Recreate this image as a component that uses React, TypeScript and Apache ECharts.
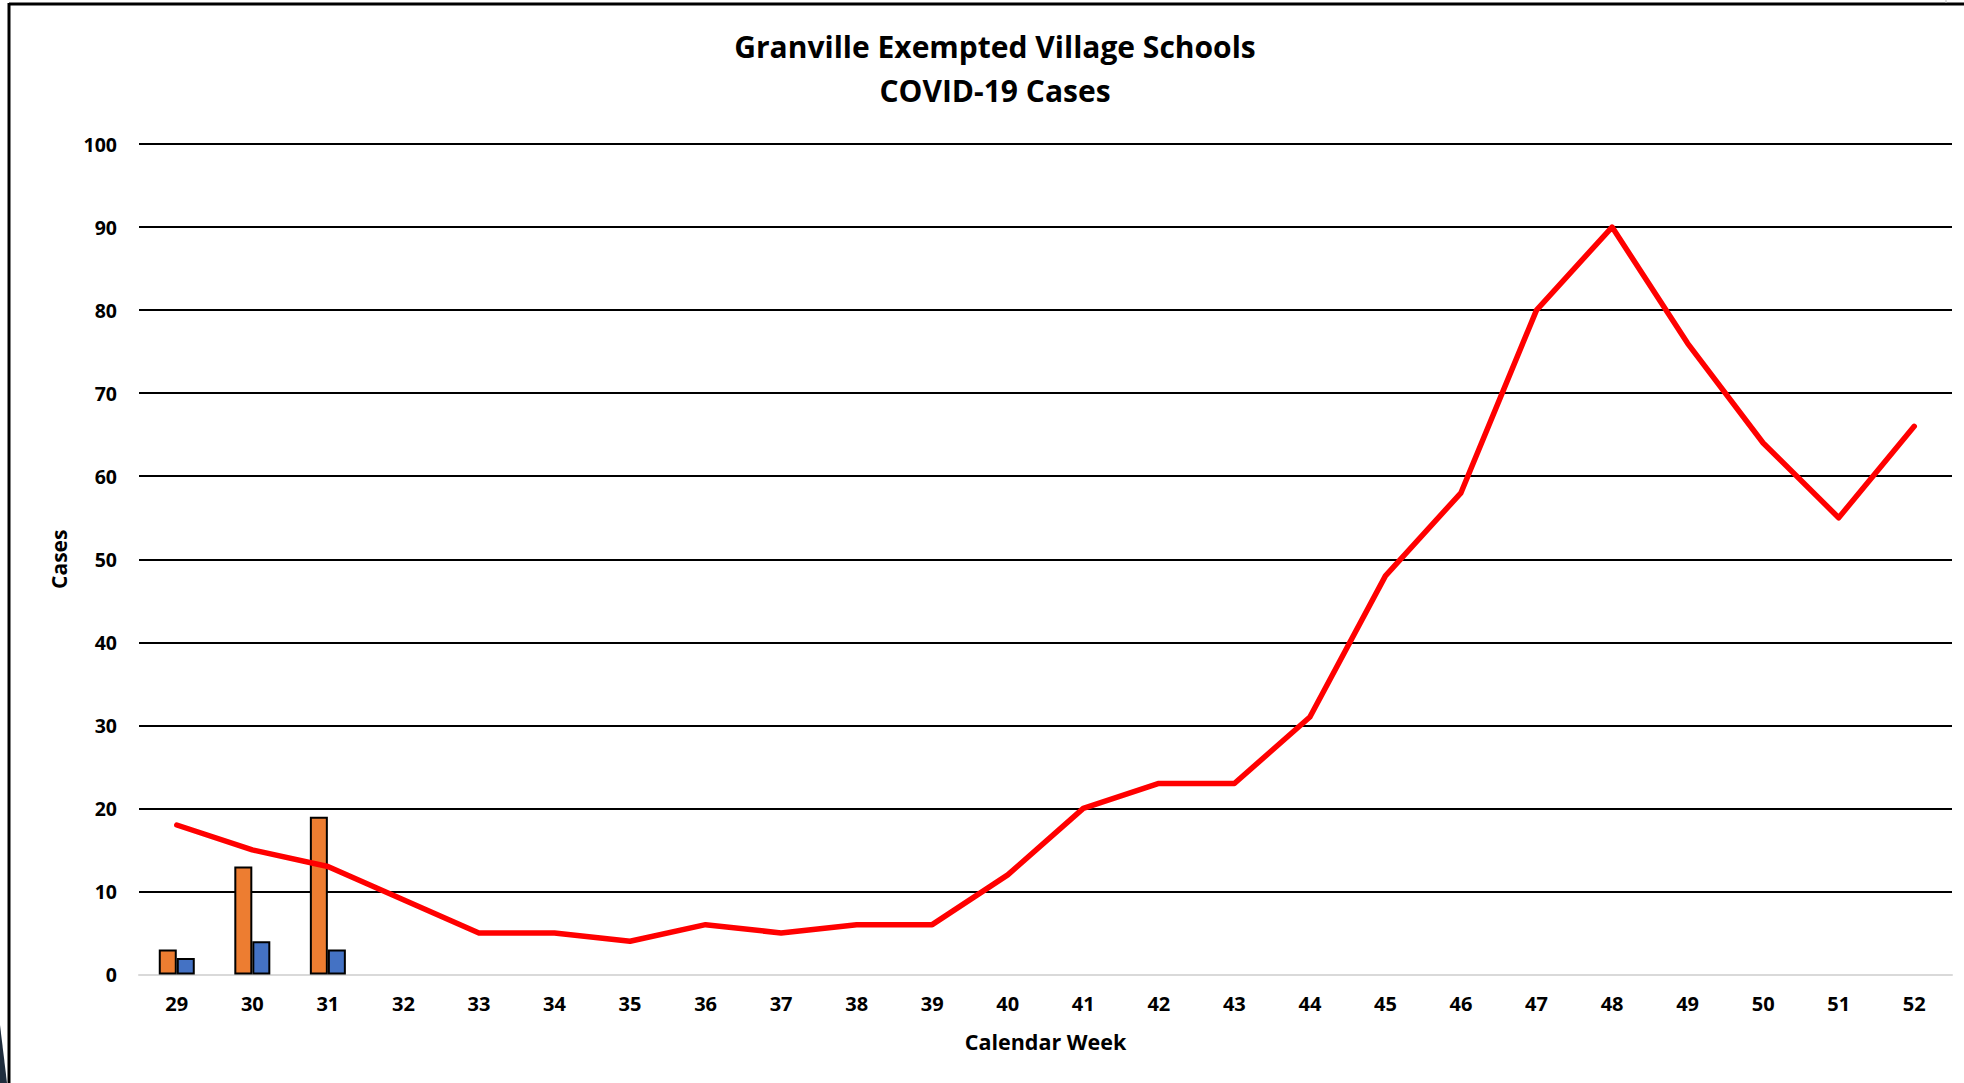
import React, { useEffect, useRef } from "react";
import * as echarts from "echarts";

const weeks = ["29","30","31","32","33","34","35","36","37","38","39","40","41","42","43","44","45","46","47","48","49","50","51","52"];
const lineValues = [18,15,13,9,5,5,4,6,5,6,6,12,20,23,23,31,48,58,80,90,76,64,55,66];
const orangeValues = [3,13,19,null,null,null,null,null,null,null,null,null,null,null,null,null,null,null,null,null,null,null,null,null];
const blueValues = [2,4,3,null,null,null,null,null,null,null,null,null,null,null,null,null,null,null,null,null,null,null,null,null];
const titleLines = ["Granville Exempted Village Schools", "COVID-19 Cases"];

const FONT = "'Open Sans', 'Noto Sans', sans-serif";

export default function App() {
  const ref = useRef<HTMLDivElement>(null);
  useEffect(() => {
    if (!ref.current) return;
    const chart = echarts.init(ref.current, null, { renderer: "svg" });
    chart.setOption({
      animation: false,
      backgroundColor: "#ffffff",
      title: [
        {
          text: titleLines[0],
          left: 990,
          top: 26,
          textAlign: "center",
          textStyle: { fontFamily: FONT, fontWeight: "bold", fontSize: 30, color: "#000" },
        },
        {
          text: titleLines[1],
          left: 990,
          top: 70,
          textAlign: "center",
          textStyle: { fontFamily: FONT, fontWeight: "bold", fontSize: 30, color: "#000" },
        },
      ],
      grid: { left: 139, right: 12, top: 144, bottom: 108.5, containLabel: false },
      xAxis: {
        type: "category",
        data: weeks,
        name: "Calendar Week",
        nameLocation: "middle",
        nameGap: 56,
        nameTextStyle: { fontFamily: FONT, fontWeight: "bold", fontSize: 21.5, color: "#000" },
        axisLine: { show: true, lineStyle: { color: "#D9D9D9", width: 2 } },
        axisTick: { show: false },
        axisLabel: { fontFamily: FONT, fontWeight: "bold", fontSize: 20, color: "#000", margin: 19 },
      },
      yAxis: {
        type: "value",
        min: 0,
        max: 100,
        interval: 10,
        name: "Cases",
        nameLocation: "middle",
        nameGap: 70,
        nameTextStyle: { fontFamily: FONT, fontWeight: "bold", fontSize: 21, color: "#000" },
        axisLine: { show: false },
        axisTick: { show: false },
        axisLabel: { fontFamily: FONT, fontWeight: "bold", fontSize: 19.5, color: "#000", margin: 22 },
        splitLine: { show: true, lineStyle: { color: "#000", width: 2 } },
      },
      series: [
        {
          type: "bar",
          data: orangeValues,
          barWidth: 18,
          barGap: "0%",
          itemStyle: { color: "#ED7D31", borderColor: "#000", borderWidth: 2 },
          z: 2,
        },
        {
          type: "bar",
          data: blueValues,
          barWidth: 18,
          barGap: "0%",
          itemStyle: { color: "#4472C4", borderColor: "#000", borderWidth: 2 },
          z: 2,
        },
        {
          type: "line",
          data: lineValues,
          showSymbol: false,
          symbol: "none",
          lineStyle: { color: "#FF0000", width: 5.5, join: "round", cap: "round" },
          z: 3,
        },
      ],
      graphic: [
        { type: "line", shape: { x1: 9, y1: 4, x2: 1964, y2: 4 }, style: { stroke: "#000", lineWidth: 3 } },
        { type: "line", shape: { x1: 9, y1: 3, x2: 9, y2: 1083 }, style: { stroke: "#000", lineWidth: 3 } },
        { type: "line", shape: { x1: 1946, y1: 0, x2: 1946, y2: 3 }, style: { stroke: "#BBBBBB", lineWidth: 1 } },
        { type: "polygon", shape: { points: [[0, 1025], [7, 1083], [0, 1083]] }, style: { fill: "#1F2D3D" } },
      ],
    });
    return () => chart.dispose();
  }, []);
  return (
    <div
      ref={ref}
      style={{ position: "fixed", left: 0, top: 0, width: 1964, height: 1083 }}
    />
  );
}
